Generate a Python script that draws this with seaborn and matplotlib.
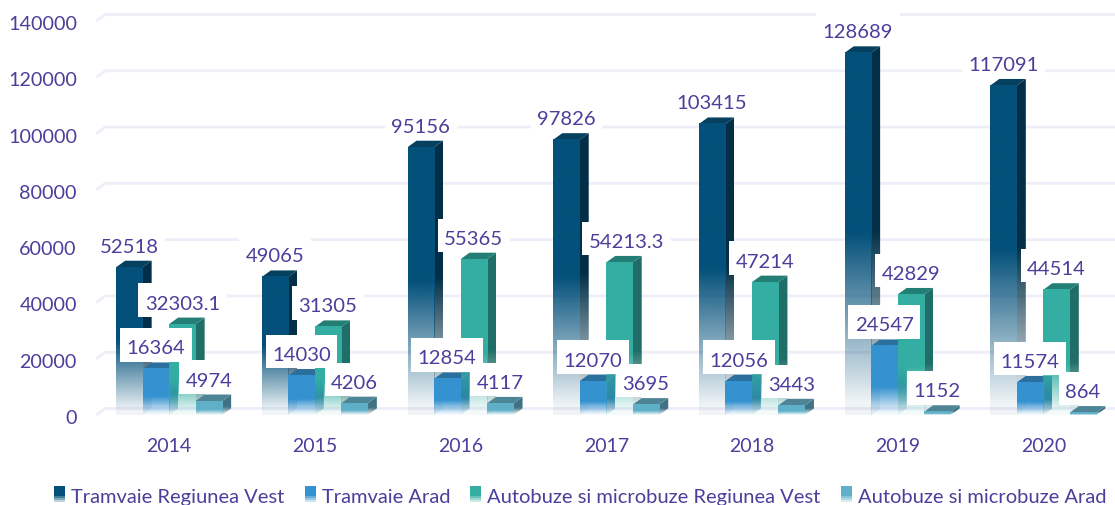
import numpy as np
import pandas as pd
import matplotlib
matplotlib.use("Agg")
import matplotlib.pyplot as plt
import seaborn as sns
from matplotlib.colors import to_rgb
from matplotlib.legend_handler import HandlerBase
from matplotlib.patches import Polygon, Rectangle
from matplotlib.path import Path
from matplotlib.transforms import ScaledTranslation

# === Data ===
years = ["2014", "2015", "2016", "2017", "2018", "2019", "2020"]
tramvaie_vest = [52518, 49065, 95156, 97826, 103415, 128689, 117091]
tramvaie_arad = [16364, 14030, 12854, 12070, 12056, 24547, 11574]
autobuze_vest = [32303.1, 31305, 55365, 54213.3, 47214, 42829, 44514]
autobuze_arad = [4974, 4206, 4117, 3695, 3443, 1152, 864]
series_names = ["Tramvaie Regiunea Vest", "Tramvaie Arad",
                "Autobuze si microbuze Regiunea Vest", "Autobuze si microbuze Arad"]
y_ticks = [0, 20000, 40000, 60000, 80000, 100000, 120000, 140000]

# === Styles ===
front_colors = ["#03507a", "#3592d0", "#34aea2", "#5fb0c8"]
side_colors = ["#022f47", "#2a78a8", "#206e68", "#3f7284"]
top_colors = ["#06405f", "#2a6f9e", "#237f76", "#4e8596"]
fade_part = [0.5, 0.4, 0.4, 0.4]
text_color = "#4a3f9a"
grid_color = "#eeeef9"
depth_x_px, depth_y_px = 9, 6.5
label_gap_px = 21
label_shift_px = {(3, 2): 7}
label_zorder = [22, 23, 21, 20]  # tram Arad boxes lie over the small bus labels
axes_h_px = 394

all_values = [tramvaie_vest, tramvaie_arad, autobuze_vest, autobuze_arad]
df = pd.concat([pd.DataFrame({"year": years, "value": vals, "series": name})
                for vals, name in zip(all_values, series_names)])

sns.set_theme(style="white")
plt.rcParams["font.family"] = ["Lato", "DejaVu Sans"]

fig = plt.figure(figsize=(11.15, 5.06), dpi=100)
ax = fig.add_axes([96.3 / 1115, 90 / 506, 1018.7 / 1115, axes_h_px / 506])
sns.barplot(data=df, x="year", y="value", hue="series", hue_order=series_names,
            palette=front_colors, width=0.7275, gap=0, saturation=1, legend=False, ax=ax)

xlim = (-0.5, 6.492)
ylim = (0, 140000)
dx = depth_x_px * (xlim[1] - xlim[0]) / 1018.7
dy = depth_y_px * (ylim[1] - ylim[0]) / axes_h_px


def gradient(color, part):
    # solid at the top, going almost white over the lower part of the bar
    n = 200
    rgba = np.ones((n, 1, 4))
    rgba[:, 0, :3] = to_rgb(color)
    pos = np.linspace(0, 1, n)
    rgba[:, 0, 3] = np.clip((1 - pos) / part, 0.06, 1)
    return rgba


def label_box(x0, y0, width, height, mutation_size):
    # boxes in the picture are tall and stop just above the top face of the bar
    px = 0.32 * mutation_size
    left, right = x0 - px, x0 + width + px
    low, high = y0 - 0.26 * mutation_size, y0 + height + 0.55 * mutation_size
    return Path([(left, low), (right, low), (right, high), (left, high), (left, low)], closed=True)


# back wall grid with the small diagonal at the left
for v in y_ticks:
    ax.plot([xlim[0], xlim[0] + dx, xlim[1]], [v, v + dy, v + dy], color=grid_color,
            lw=2, zorder=1, clip_on=False, solid_capstyle="butt")

for s, container in enumerate(ax.containers):
    for rect in container:
        x0, w, h = rect.get_x(), rect.get_width(), rect.get_height()
        x1 = x0 + w
        z = 2 + s
        rect.set_facecolor("none")
        rect.set_edgecolor("none")
        grad = gradient(front_colors[s], fade_part[s])
        ax.imshow(grad, extent=[x0, x1, 0, h], aspect="auto", zorder=z + 0.3)

        side = Polygon([(x1, 0), (x1 + dx, dy), (x1 + dx, h + dy), (x1, h)],
                       facecolor="none", edgecolor="none")
        ax.add_patch(side)
        im = ax.imshow(gradient(side_colors[s], fade_part[s]),
                       extent=[x1, x1 + dx, 0, h + dy], aspect="auto", zorder=z + 0.1)
        im.set_clip_path(side)

        ax.add_patch(Polygon([(x0, h), (x0 + dx, h + dy), (x1 + dx, h + dy), (x1, h)],
                             facecolor=top_colors[s], edgecolor="none", zorder=z + 0.2,
                             clip_on=False))

# value labels sit a fixed distance above the front top of each bar
for s, container in enumerate(ax.containers):
    for g, rect in enumerate(container):
        val = all_values[s][g]
        ax.annotate(f"{val:g}" if val < 1e5 else f"{val:.0f}",
                    xy=(rect.get_x() + rect.get_width() / 2, rect.get_height()),
                    xytext=(label_shift_px.get((g, s), 0), label_gap_px),
                    textcoords="offset pixels", ha="center", va="center",
                    fontsize=14.6, color=text_color, zorder=label_zorder[s],
                    bbox=dict(boxstyle=label_box, facecolor="white", edgecolor="none"),
                    annotation_clip=False)

ax.set_xlim(xlim)
ax.set_ylim(ylim)
ax.set_yticks(y_ticks)
ax.set_xlabel("")
ax.set_ylabel("")
ax.tick_params(axis="y", length=0, pad=14, labelsize=14.2, labelcolor=text_color)
ax.tick_params(axis="x", length=0, pad=16, labelsize=14, labelcolor=text_color)
for lab in ax.get_yticklabels():
    lab.set_transform(lab.get_transform() + ScaledTranslation(0, -1 / 100, fig.dpi_scale_trans))
sns.despine(ax=ax, left=True, bottom=True)
ax.patch.set_alpha(0)


class FadeSquare(HandlerBase):
    def create_artists(self, legend, orig, xd, yd, width, height, fontsize, trans):
        color = np.array(to_rgb(orig.get_facecolor()))
        n = 8
        parts = []
        for k in range(n):
            # lowest steps get lighter
            mix = max(0.75 - k * 0.25, 0)
            parts.append(Rectangle((xd, yd + height * k / n), width, height / n + 0.3,
                                   facecolor=color * (1 - mix) + mix, edgecolor="none",
                                   transform=trans))
        return parts


handles = [Rectangle((0, 0), 1, 1, facecolor=c) for c in front_colors]
fig.legend(handles, series_names, handler_map={Rectangle: FadeSquare()}, ncol=4,
           loc="lower left", bbox_to_anchor=(54 / 1115, 0 / 506), frameon=False,
           fontsize=14.5, labelcolor=text_color, handlelength=0.55, handleheight=0.75,
           handletextpad=0.3, columnspacing=1.0, borderpad=0, borderaxespad=0)

fig.savefig("out.png", dpi=100)
